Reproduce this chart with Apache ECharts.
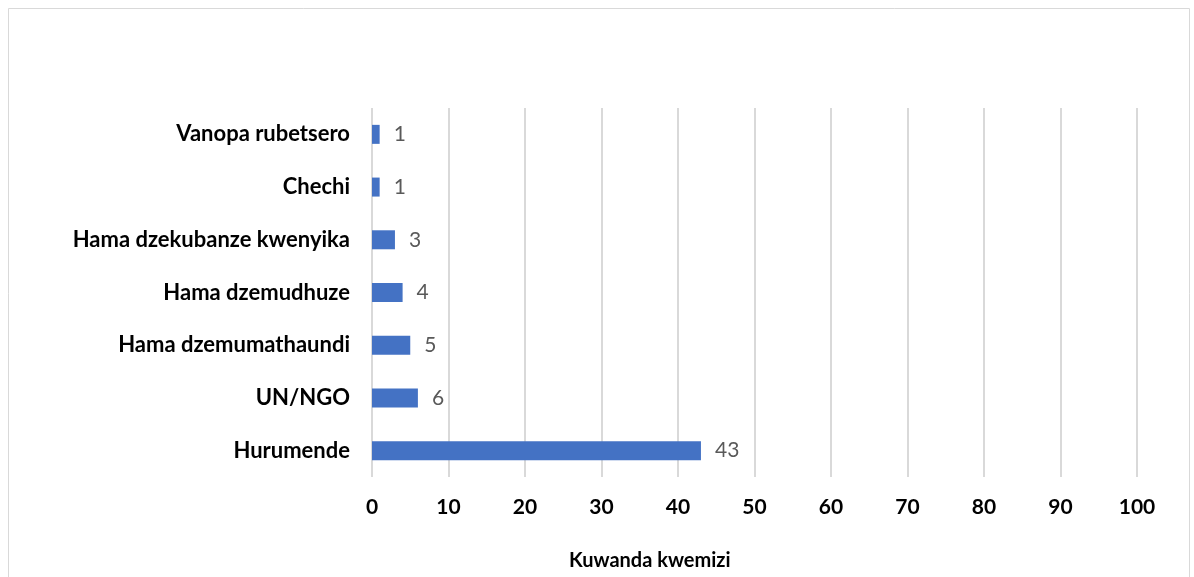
<!DOCTYPE html>
<html>
<head>
<meta charset="utf-8">
<script src="https://cdn.jsdelivr.net/npm/echarts@6/dist/echarts.min.js"></script>
<style>
  html, body { margin: 0; padding: 0; background: #fff; }
  #chart { width: 1194px; height: 577px; }
</style>
</head>
<body>
<div id="chart"></div>
<script>
// Categories listed bottom to top, as drawn on the category axis
const categories = [
  'Hurumende',
  'UN/NGO',
  'Hama dzemumathaundi',
  'Hama dzemudhuze',
  'Hama dzekubanze kwenyika',
  'Chechi',
  'Vanopa rubetsero'
];
const counts = [43, 6, 5, 4, 3, 1, 1];
const xTicks = { min: 0, max: 100, interval: 10 };
const axisTitle = 'Kuwanda kwemizi';

const font = 'Lato, "Open Sans", "Noto Sans", sans-serif';
const chart = echarts.init(document.getElementById('chart'), null, { renderer: 'canvas' });

chart.setOption({
  animation: false,
  backgroundColor: '#ffffff',
  graphic: [
    {
      type: 'rect',
      shape: { x: 8.5, y: 8.5, width: 1181, height: 600 },
      style: { fill: 'none', stroke: '#d9d9d9', lineWidth: 1 },
      silent: true
    },
    {
      type: 'text',
      left: 569,
      top: 551,
      style: {
        text: axisTitle,
        fontFamily: font,
        fontWeight: 'bold',
        fontSize: 20,
        fill: '#000'
      },
      silent: true
    }
  ],
  grid: { left: 372, right: 57, top: 108, bottom: 100, containLabel: false },
  xAxis: {
    type: 'value',
    min: xTicks.min,
    max: xTicks.max,
    interval: xTicks.interval,
    axisLine: { show: false },
    axisTick: { show: false },
    axisLabel: { fontFamily: font, fontWeight: 'bold', fontSize: 21, color: '#000', margin: 20 },
    splitLine: { show: true, lineStyle: { color: '#d9d9d9', width: 2 } }
  },
  yAxis: {
    type: 'category',
    data: categories,
    axisLine: { show: false },
    axisTick: { show: false },
    axisLabel: { fontFamily: font, fontWeight: 'bold', fontSize: 22, color: '#000', margin: 22 }
  },
  series: [{
    type: 'bar',
    data: counts,
    barWidth: 19,
    itemStyle: { color: '#4472c4' },
    label: {
      show: true,
      position: 'right',
      distance: 14,
      fontFamily: font,
      fontSize: 21,
      color: '#595959'
    }
  }]
});
</script>
</body>
</html>
